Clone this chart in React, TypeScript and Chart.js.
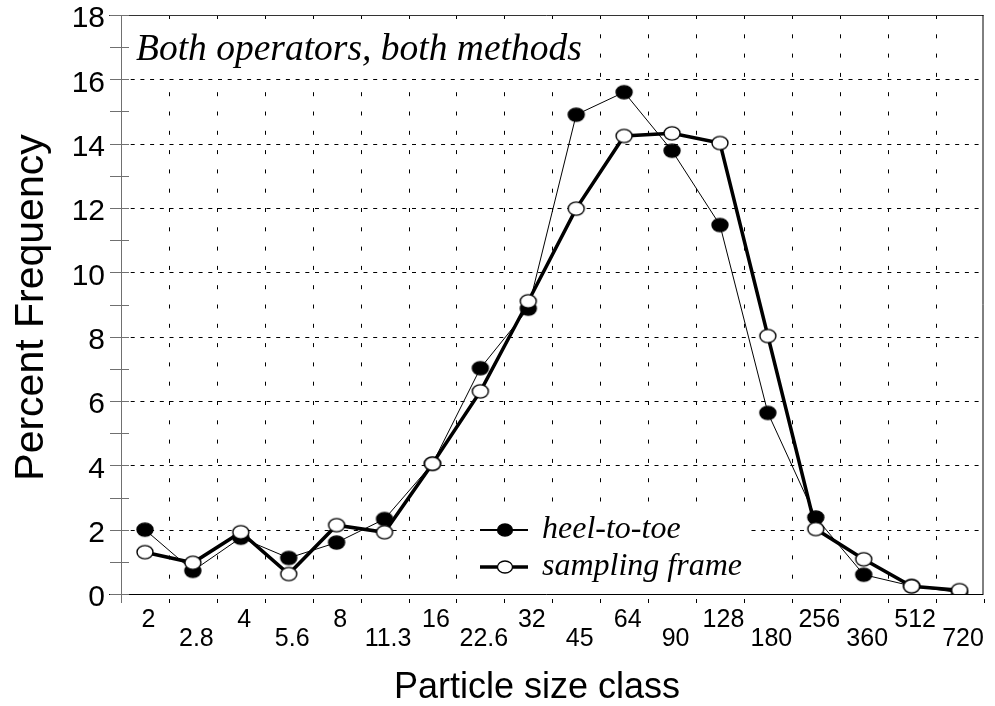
import React, { useEffect, useRef } from 'react';
import { Chart, registerables } from 'chart.js';

Chart.register(...registerables);

// ---- data ----
const categories = ['2', '2.8', '4', '5.6', '8', '11.3', '16', '22.6', '32', '45', '64', '90', '128', '180', '256', '360', '512', '720'];
const heelToToe = [2.0, 0.72, 1.75, 1.12, 1.6, 2.33, 4.05, 7.02, 8.87, 14.9, 15.6, 13.78, 11.47, 5.63, 2.38, 0.6, 0.25, 0.04];
const samplingFrame = [1.3, 0.97, 1.92, 0.62, 2.14, 1.92, 4.05, 6.3, 9.1, 11.98, 14.24, 14.32, 14.02, 8.02, 2.02, 1.08, 0.24, 0.12];
const yMin = 0;
const yMax = 18;
const yMajorStep = 2;
const chartTitle = 'Both operators, both methods';
const seriesLabels = ['heel-to-toe', 'sampling frame'];
const xTitle = 'Particle size class';
const yTitle = 'Percent Frequency';

const SANS = '"Liberation Sans", Arial, sans-serif';
const SERIF = '"Liberation Serif", "Times New Roman", serif';

function makeMarker(fill: string): HTMLCanvasElement {
  const c = document.createElement('canvas');
  c.width = 20;
  c.height = 17;
  const g = c.getContext('2d')!;
  g.beginPath();
  g.ellipse(10, 8.5, 8, 6.6, 0, 0, Math.PI * 2);
  g.fillStyle = fill;
  g.fill();
  g.lineWidth = 1.4;
  g.strokeStyle = '#000';
  g.stroke();
  return c;
}

const decorPlugin = {
  id: 'decor',
  beforeDatasetsDraw(chart: any) {
    const { ctx, chartArea, scales } = chart;
    const { left, right, top, bottom } = chartArea;
    const x = scales.x;
    const y = scales.y;
    const n = categories.length;
    const line = (x1: number, y1: number, x2: number, y2: number) => {
      ctx.beginPath();
      ctx.moveTo(x1, y1);
      ctx.lineTo(x2, y2);
      ctx.stroke();
    };
    ctx.save();
    ctx.strokeStyle = '#000';
    ctx.lineWidth = 1;

    // horizontal dashed grid
    ctx.setLineDash([4, 5.7]);
    for (let v = yMin + yMajorStep; v < yMax; v += yMajorStep) {
      const py = Math.round(y.getPixelForValue(v)) + 0.5;
      line(left, py, right, py);
    }
    // vertical dashed grid at category boundaries
    ctx.setLineDash([4, 15.3]);
    for (let i = 1; i < n; i++) {
      const px = Math.round(x.getPixelForValue(i - 0.5)) + 0.5;
      line(px, top, px, bottom);
    }
    ctx.setLineDash([]);
    // bottom tick marks
    for (let i = 0; i <= n; i++) {
      const px = Math.round(x.getPixelForValue(i - 0.5)) + 0.5;
      line(px, bottom + 5, px, bottom + 9);
    }

    // white boxes behind title and legend
    ctx.fillStyle = '#fff';
    ctx.fillRect(left + 1, top + 6, 475, 56);
    ctx.fillRect(474, 508, 275, 78);

    // chart title
    ctx.fillStyle = '#000';
    ctx.font = `italic 37.5px ${SERIF}`;
    ctx.textAlign = 'left';
    ctx.textBaseline = 'alphabetic';
    ctx.fillText(chartTitle, 136, 60);

    // legend
    const rows = [
      { y: 530, label: seriesLabels[0], fill: '#000', lw: 2 },
      { y: 567, label: seriesLabels[1], fill: '#fff', lw: 3.5 },
    ];
    ctx.font = `italic 32px ${SERIF}`;
    for (const r of rows) {
      ctx.strokeStyle = '#000';
      ctx.lineWidth = r.lw;
      line(480, r.y, 528, r.y);
      ctx.beginPath();
      ctx.ellipse(505, r.y, 7.5, 6, 0, 0, Math.PI * 2);
      ctx.fillStyle = r.fill;
      ctx.fill();
      ctx.lineWidth = 1.3;
      ctx.stroke();
      ctx.fillStyle = '#000';
      ctx.fillText(r.label, 542, r.y + 8);
    }

    // frame
    ctx.lineWidth = 1;
    ctx.strokeStyle = '#333';
    line(left - 12, top + 0.5, right, top + 0.5);
    ctx.strokeStyle = '#000';
    line(right - 0.5, top, right - 0.5, bottom);
    line(left - 12, bottom + 0.5, right, bottom + 0.5);
    // left axis and its ticks (gray)
    ctx.strokeStyle = '#707070';
    line(left + 0.5, top, left + 0.5, bottom + 9);
    for (let v = yMin; v <= yMax; v += 1) {
      const py = Math.round(y.getPixelForValue(v)) + 0.5;
      line(left - 11, py, left + 8, py);
    }

    ctx.restore();
  },
  afterDraw(chart: any) {
    const { ctx, chartArea } = chart;
    ctx.save();
    ctx.fillStyle = '#000';
    ctx.textAlign = 'center';
    ctx.textBaseline = 'middle';
    ctx.font = `36px ${SANS}`;
    ctx.fillText(xTitle, 537, 688);
    ctx.translate(32, (chartArea.top + chartArea.bottom) / 2 + 3);
    ctx.rotate(-Math.PI / 2);
    ctx.font = `41px ${SANS}`;
    ctx.fillText(yTitle, 0, 0);
    ctx.restore();
  },
};

export default function App() {
  const ref = useRef<HTMLCanvasElement | null>(null);

  useEffect(() => {
    if (!ref.current) return;
    const filled = makeMarker('#000');
    const open = makeMarker('#fff');
    const chart = new Chart(ref.current, {
      type: 'line',
      data: {
        labels: categories,
        datasets: [
          {
            label: seriesLabels[1],
            data: samplingFrame,
            borderColor: '#000',
            borderWidth: 3.5,
            pointStyle: open as any,
            pointRadius: 8,
            tension: 0,
            fill: false,
          },
          {
            label: seriesLabels[0],
            data: heelToToe,
            borderColor: '#000',
            borderWidth: 1,
            pointStyle: filled as any,
            pointRadius: 8,
            tension: 0,
            fill: false,
          },
        ],
      },
      options: {
        responsive: false,
        animation: false,
        events: [],
        layout: { padding: { top: 15, right: 6, left: 0, bottom: 0 } },
        plugins: {
          legend: { display: false },
          tooltip: { enabled: false },
          title: { display: false },
        },
        scales: {
          x: {
            type: 'category',
            offset: true,
            grid: { display: false, drawTicks: false },
            border: { display: false },
            ticks: {
              autoSkip: false,
              maxRotation: 0,
              minRotation: 0,
              padding: 16,
              labelOffset: 3.5,
              color: '#000',
              font: { family: SANS, size: 25, lineHeight: 0.78 },
              callback: (_v: any, i: number) => (i % 2 === 0 ? [categories[i], ''] : ['', categories[i]]),
            },
            afterFit: (s: any) => {
              s.height = 112;
              s.paddingLeft = 0;
              s.paddingRight = 0;
            },
          },
          y: {
            min: yMin,
            max: yMax,
            grid: { display: false, drawTicks: false },
            border: { display: false },
            ticks: {
              stepSize: yMajorStep,
              padding: 16,
              labelOffset: 4,
              color: '#000',
              font: { family: SANS, size: 30 },
            },
            afterFit: (s: any) => {
              s.width = 121;
              s.paddingTop = 0;
              s.paddingBottom = 0;
            },
          },
        },
      },
      plugins: [decorPlugin],
    });
    return () => chart.destroy();
  }, []);

  return (
    <div style={{ position: 'fixed', left: 0, top: 0, width: 995, height: 706, background: '#fff' }}>
      <canvas ref={ref} width={995} height={706} />
    </div>
  );
}
